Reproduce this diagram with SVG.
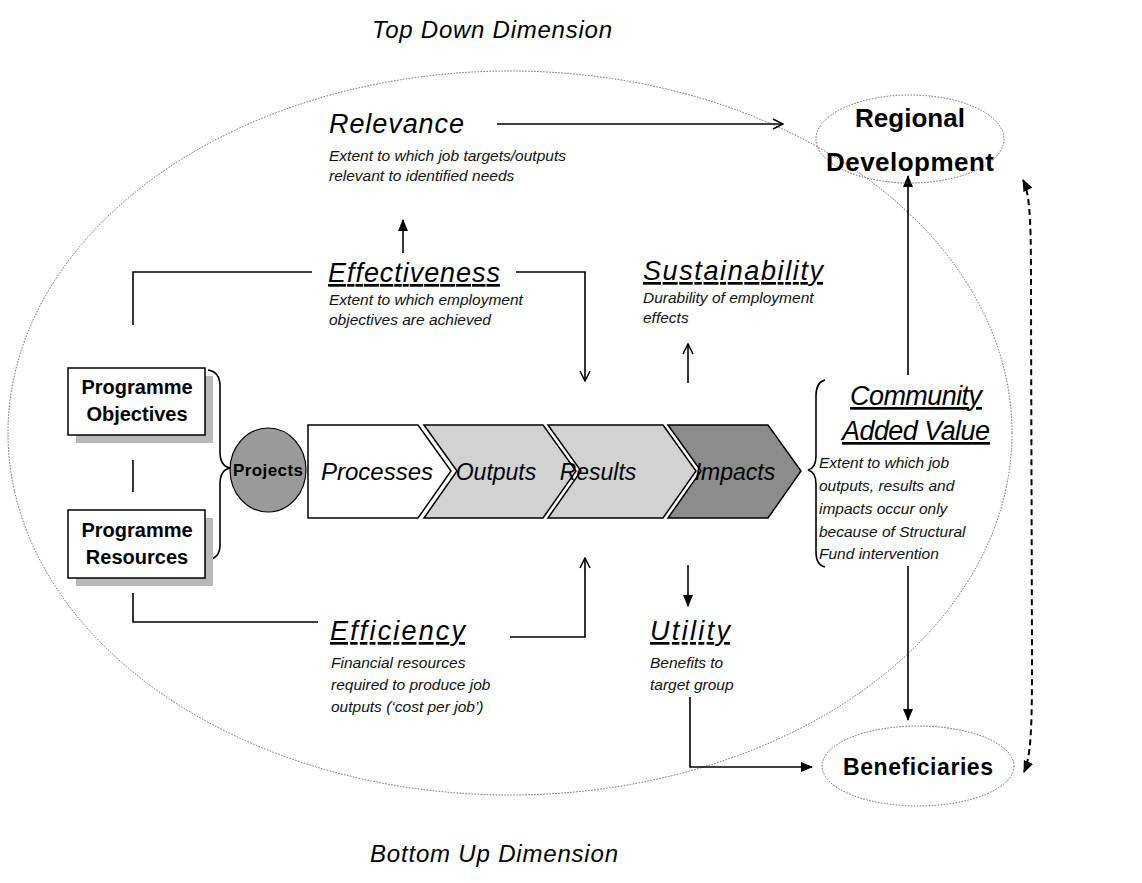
<svg xmlns="http://www.w3.org/2000/svg" width="1142" height="883" viewBox="0 0 1142 883">
<defs>
<style>
.t{font-family:"Liberation Sans",Arial,sans-serif;fill:#000}
.it{font-style:italic}
.b{font-weight:bold}
.head{font-family:"Liberation Sans",Arial,sans-serif;font-style:italic;font-size:27px;fill:#000}
.desc{font-family:"Liberation Sans",Arial,sans-serif;font-style:italic;font-size:15.5px;fill:#111}
.ln{fill:none;stroke:#000;stroke-width:1.6}
.dot{fill:none;stroke:#666;stroke-width:1;stroke-dasharray:1.5 1.5}
.box{fill:#fff;stroke:#000;stroke-width:1.5}
.shadow{fill:#b8b8b8}
.chev{stroke:#000;stroke-width:1.5}
</style>
<marker id="open" viewBox="0 0 12 12" refX="11" refY="6" markerWidth="12" markerHeight="12" markerUnits="userSpaceOnUse" orient="auto">
<path d="M1,1 L11,6 L1,11" fill="none" stroke="#000" stroke-width="1.5"/>
</marker>
<marker id="fill" viewBox="0 0 12 10" refX="11" refY="5" markerWidth="12" markerHeight="10" markerUnits="userSpaceOnUse" orient="auto-start-reverse">
<path d="M0,0 L12,5 L0,10 Z" fill="#000"/>
</marker>
</defs>
<rect width="1142" height="883" fill="#fff"/>

<g id="outer-ellipse">
<ellipse cx="510" cy="433" rx="502" ry="362" class="dot"/>
</g>

<g id="dimension-labels">
<text class="t it" x="372" y="38" font-size="24" textLength="240">Top Down Dimension</text>
<text class="t it" x="370" y="862" font-size="24" textLength="248">Bottom Up Dimension</text>
</g>

<g id="connectors">
<line x1="497" y1="124" x2="783" y2="124" class="ln" marker-end="url(#open)"/>
<line x1="403" y1="253" x2="403" y2="220" class="ln" marker-end="url(#fill)"/>
<polyline points="133,325 133,272 312,272" class="ln"/>
<polyline points="516,272 585,272 585,381" class="ln" marker-end="url(#open)"/>
<line x1="688" y1="383" x2="688" y2="344" class="ln" marker-end="url(#open)"/>
<line x1="133" y1="460" x2="133" y2="492" class="ln"/>
<polyline points="133,593 133,622 318,622" class="ln"/>
<polyline points="510,637 585,637 585,558" class="ln" marker-end="url(#open)"/>
<line x1="688" y1="565" x2="688" y2="606" class="ln" marker-end="url(#fill)"/>
<polyline points="690,697 690,767 812,767" class="ln" marker-end="url(#fill)"/>
<line x1="908" y1="375" x2="908" y2="176" class="ln" marker-end="url(#fill)"/>
<line x1="908" y1="566" x2="908" y2="720" class="ln" marker-end="url(#fill)"/>
<path d="M1023,180 C1031,196 1031,230 1031,300 L1032,660 C1032,730 1031,756 1024,772" fill="none" stroke="#000" stroke-width="2" stroke-dasharray="6 4" marker-start="url(#fill)" marker-end="url(#fill)"/>
<path d="M208,370 Q220,372 220,386 L220,452 Q220,466 230,468 Q220,470 220,484 L220,545 Q220,558 208,560" class="ln"/>
<path d="M825,380 Q816,382 816,396 L816,456 Q816,468 808,470 Q816,472 816,484 L816,552 Q816,565 825,567" class="ln"/>
</g>

<g id="programme-objectives">
<rect x="76" y="376" width="137" height="67" class="shadow"/>
<rect x="68" y="368" width="137" height="67" class="box"/>
<text class="t b" x="137" y="394" font-size="20" text-anchor="middle">Programme</text>
<text class="t b" x="137" y="421" font-size="20" text-anchor="middle">Objectives</text>
</g>

<g id="programme-resources">
<rect x="76" y="518" width="137" height="68" class="shadow"/>
<rect x="68" y="510" width="137" height="68" class="box"/>
<text class="t b" x="137" y="537" font-size="20" text-anchor="middle">Programme</text>
<text class="t b" x="137" y="564" font-size="20" text-anchor="middle">Resources</text>
</g>

<g id="projects">
<ellipse cx="268" cy="470" rx="38" ry="42" fill="#9a9a9a" stroke="#000" stroke-width="1.2"/>
<text class="t b" x="268" y="476" font-size="17" text-anchor="middle" textLength="70">Projects</text>
</g>

<g id="processes">
<path d="M308,425 L418,425 L451,471 L418,518 L308,518 Z" fill="#fff" class="chev"/>
<text class="t it" x="377" y="480" font-size="24" text-anchor="middle">Processes</text>
</g>
<g id="outputs">
<path d="M424,425 L543,425 L576,471 L543,518 L424,518 L457,471 Z" fill="#d2d2d2" class="chev"/>
<text class="t it" x="496" y="480" font-size="23" text-anchor="middle">Outputs</text>
</g>
<g id="results">
<path d="M548,425 L663,425 L696,471 L663,518 L548,518 L581,471 Z" fill="#d2d2d2" class="chev"/>
<text class="t it" x="598" y="480" font-size="23" text-anchor="middle">Results</text>
</g>
<g id="impacts">
<path d="M668,425 L768,425 L801,471 L768,518 L668,518 L701,471 Z" fill="#8c8c8c" class="chev"/>
<text class="t it" x="735" y="480" font-size="23" text-anchor="middle">Impacts</text>
</g>

<g id="relevance">
<text class="head" x="329" y="133" textLength="135">Relevance</text>
<text class="desc" x="329" y="161" font-size="15">Extent to which job targets/outputs</text>
<text class="desc" x="329" y="181" font-size="15">relevant to identified needs</text>
</g>

<g id="effectiveness">
<text class="head" x="328" y="282" textLength="172" text-decoration="underline">Effectiveness</text>
<text class="desc" x="329" y="305">Extent to which employment</text>
<text class="desc" x="329" y="325">objectives are achieved</text>
</g>

<g id="sustainability">
<text class="head" x="643" y="280" textLength="180" text-decoration="underline">Sustainability</text>
<text class="desc" x="643" y="303">Durability of employment</text>
<text class="desc" x="643" y="323">effects</text>
</g>

<g id="efficiency">
<text class="head" x="330" y="640" textLength="135" text-decoration="underline">Efficiency</text>
<text class="desc" x="331" y="668" font-size="15">Financial resources</text>
<text class="desc" x="331" y="690" font-size="15">required to produce job</text>
<text class="desc" x="331" y="712" font-size="15">outputs (‘cost per job’)</text>
</g>

<g id="utility">
<text class="head" x="650" y="640" textLength="80" text-decoration="underline">Utility</text>
<text class="desc" x="650" y="668" font-size="15">Benefits to</text>
<text class="desc" x="650" y="690" font-size="15">target group</text>
</g>

<g id="community-added-value">
<text class="head" x="916" y="405" font-size="25" text-anchor="middle" textLength="132" text-decoration="underline">Community</text>
<text class="head" x="916" y="440" font-size="25" text-anchor="middle" textLength="148" text-decoration="underline">Added Value</text>
<text class="desc" x="819" y="468" font-size="16.5">Extent to which job</text>
<text class="desc" x="819" y="491" font-size="16.5">outputs, results and</text>
<text class="desc" x="819" y="514" font-size="16.5">impacts occur only</text>
<text class="desc" x="819" y="537" font-size="16.5">because of Structural</text>
<text class="desc" x="819" y="559" font-size="16.5">Fund intervention</text>
</g>

<g id="regional-development">
<ellipse cx="910" cy="139" rx="94" ry="44" class="dot"/>
<text class="t b" x="910" y="127" font-size="26" text-anchor="middle">Regional</text>
<text class="t b" x="910" y="171" font-size="26" text-anchor="middle" textLength="168">Development</text>
</g>

<g id="beneficiaries">
<ellipse cx="918" cy="766" rx="96" ry="40" class="dot"/>
<text class="t b" x="918" y="775" font-size="23" text-anchor="middle" textLength="150">Beneficiaries</text>
</g>
</svg>
